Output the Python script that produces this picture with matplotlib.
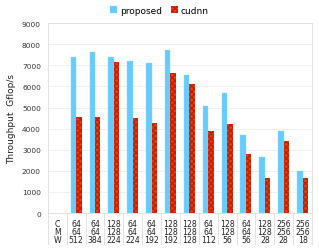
import matplotlib.pyplot as plt
import matplotlib.transforms as mtransforms
import numpy as np

# ---- data ----
C = ["64", "64", "128", "64", "64", "128", "128", "64", "128", "64", "128", "256", "256"]
M = ["64", "64", "128", "64", "64", "128", "128", "64", "128", "64", "128", "256", "256"]
W = ["512", "384", "224", "224", "192", "192", "128", "112", "56", "56", "28", "28", "18"]
proposed = [7380, 7640, 7380, 7220, 7110, 7710, 6540, 5080, 5710, 3710, 2650, 3890, 2000]
cudnn = [4540, 4540, 7180, 4510, 4290, 6620, 6110, 3890, 4220, 2800, 1640, 3410, 1640]

blue = '#66ccff'
red = '#ee3a10'

fig = plt.figure(figsize=(3.19, 2.51), dpi=100)
ax = fig.add_axes([0.150, 0.147, 0.828, 0.757])

x = np.arange(1, len(proposed) + 1)
w = 0.29
ax.bar(x - w / 2, proposed, w, color=blue, edgecolor='#8fdcff', linewidth=0.3, label='proposed', zorder=3)
ax.bar(x + w / 2, cudnn, w, color=red, edgecolor='#c02000', hatch='xxxxxx', linewidth=0, label='cudnn', zorder=3)

ax.set_xlim(-0.5, len(proposed) + 0.5)
ax.set_ylim(0, 9000)
ax.set_yticks(range(0, 9001, 1000))
ax.set_xticks([])
ax.tick_params(axis='y', length=0, labelsize=5.3, labelcolor='#333333', pad=5)
ax.grid(axis='y', color='#eeeeee', linewidth=0.6, zorder=0)
for s in ax.spines.values():
    s.set_color('#dddddd')
    s.set_linewidth(0.6)
ax.set_ylabel('Throughput  Gflop/s', fontsize=6.5, color='#222222', labelpad=4)

# table under the axis
trans = mtransforms.blended_transform_factory(ax.transData, ax.transAxes)
rows_y = [-0.053, -0.095, -0.137]
for ry, head, vals in zip(rows_y, ["C", "M", "W"], [C, M, W]):
    ax.text(0, ry, head, transform=trans, ha='center', va='center', fontsize=5.6, color='#222222')
    for xi, v in zip(x, vals):
        ax.text(xi, ry, v, transform=trans, ha='center', va='center', fontsize=5.6, color='#222222')
for sx in np.arange(-0.5, len(proposed) + 1, 1.0):
    ax.plot([sx, sx], [0, -0.163], transform=trans, color='#dddddd', linewidth=0.6, clip_on=False)

fig.legend(loc='center', bbox_to_anchor=(0.5, 0.955), ncol=2, frameon=False, fontsize=6.5,
           handlelength=0.8, handleheight=0.8, handletextpad=0.3, columnspacing=1.0)

plt.savefig('out.png', dpi=100)
